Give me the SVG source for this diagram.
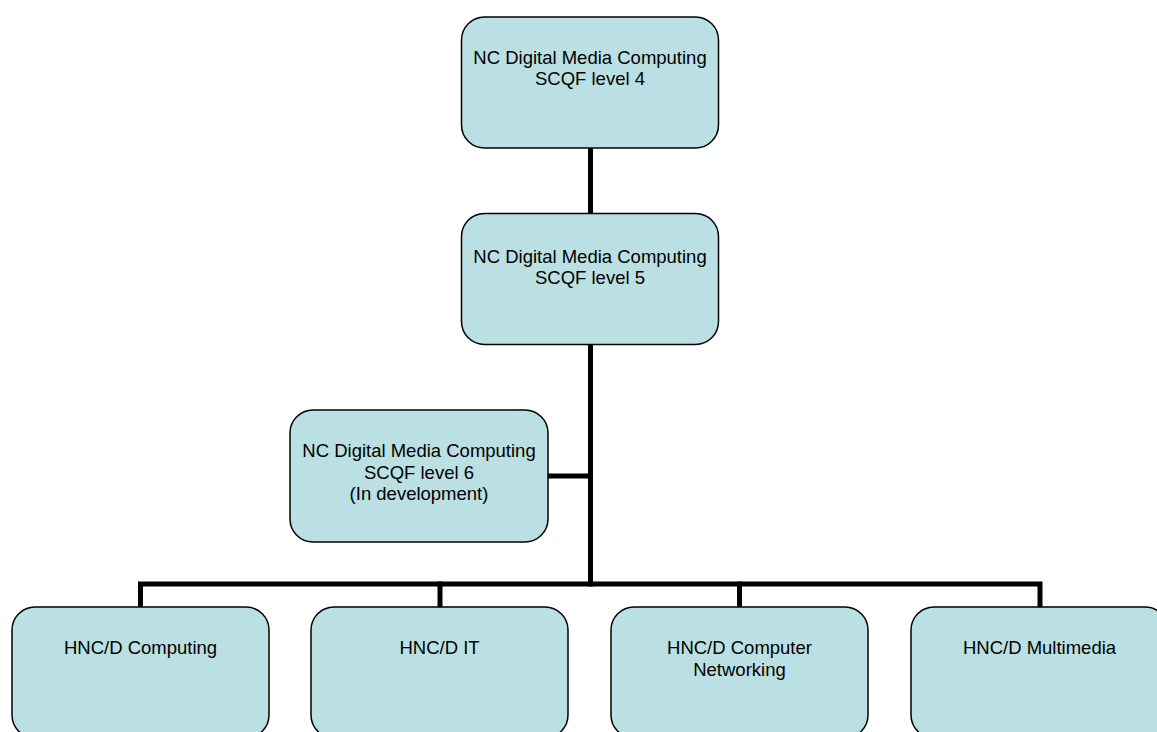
<svg xmlns="http://www.w3.org/2000/svg" width="1157" height="732" viewBox="0 0 1157 732">
<style>
.box{fill:#BBE0E3;stroke:#000;stroke-width:1.5}
.lbl{font-family:"Liberation Sans",Arial,sans-serif;font-size:18.5px;fill:#000;text-anchor:middle}
.conn{stroke:#000;stroke-width:5;fill:none;stroke-linecap:square}
</style>
<rect width="1157" height="732" fill="#fff"/>
<g id="connectors">
<line class="conn" x1="590.5" y1="149" x2="590.5" y2="212"/>
<line class="conn" x1="590.5" y1="346" x2="590.5" y2="584"/>
<line class="conn" x1="549" y1="476" x2="590.5" y2="476"/>
<polyline class="conn" points="140.5,606 140.5,584 1040,584 1040,606" stroke-linecap="butt" stroke-linejoin="miter"/>
<line class="conn" x1="440" y1="584" x2="440" y2="606" stroke-linecap="butt"/>
<line class="conn" x1="739.5" y1="584" x2="739.5" y2="606" stroke-linecap="butt"/>
</g>
<g id="n_level4">
<rect class="box" x="461.5" y="17" width="257" height="131" rx="23"/>
<text class="lbl" x="590" y="64">NC Digital Media Computing</text>
<text class="lbl" x="590" y="85">SCQF level 4</text>
</g>
<g id="n_level5">
<rect class="box" x="461.5" y="213.5" width="257" height="131" rx="23"/>
<text class="lbl" x="590" y="262.5">NC Digital Media Computing</text>
<text class="lbl" x="590" y="283.5">SCQF level 5</text>
</g>
<g id="n_level6">
<rect class="box" x="290" y="410" width="258" height="132" rx="23"/>
<text class="lbl" x="419" y="457">NC Digital Media Computing</text>
<text class="lbl" x="419" y="478.5">SCQF level 6</text>
<text class="lbl" x="419" y="500">(In development)</text>
</g>
<g id="n_hnc_computing">
<rect class="box" x="12" y="607" width="257" height="131" rx="23"/>
<text class="lbl" x="140.5" y="654">HNC/D Computing</text>
</g>
<g id="n_hnc_it">
<rect class="box" x="311" y="607" width="257" height="131" rx="23"/>
<text class="lbl" x="439.5" y="654">HNC/D IT</text>
</g>
<g id="n_hnc_networking">
<rect class="box" x="611" y="607" width="257" height="131" rx="23"/>
<text class="lbl" x="739.5" y="654">HNC/D Computer</text>
<text class="lbl" x="739.5" y="675.5">Networking</text>
</g>
<g id="n_hnc_multimedia">
<rect class="box" x="911" y="607" width="257" height="131" rx="23"/>
<text class="lbl" x="1039.5" y="654">HNC/D Multimedia</text>
</g>
</svg>
